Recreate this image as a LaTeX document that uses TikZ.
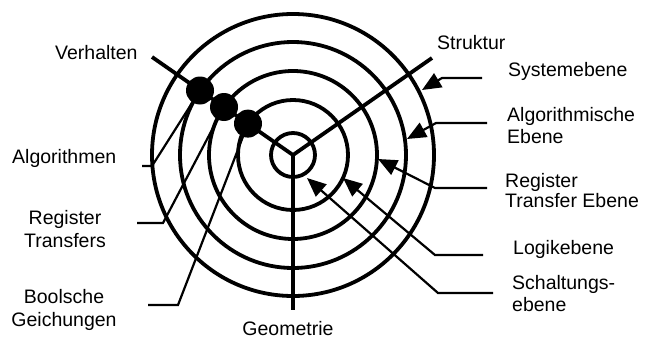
\documentclass[tikz,border=0pt]{standalone}
\usepackage{fontspec}
\setmainfont{Liberation Sans}
\usetikzlibrary{arrows.meta}
\begin{document}
\begin{tikzpicture}[x=1pt,y=-1pt,
  thickline/.style={line width=3.8pt},
  thinline/.style={line width=2.2pt},
  lbl/.style={inner sep=0pt, font=\fontsize{19.5}{22}\selectfont},
  pointer/.style={thinline, -{Triangle[length=19pt,width=16pt]}},
  dot/.style={circle, fill=black, minimum size=28pt, inner sep=0pt}]
\useasboundingbox[fill=white] (0,0) rectangle (648,340);
% centre and axes
\coordinate (C) at (293,155);
\coordinate (Vend) at (152,57);
\coordinate (Send) at (432,58);
\coordinate (Gend) at (293,310);
\foreach \r in {22,55,84,113,141} \draw[thickline] (C) circle[radius=\r pt];
\draw[thickline] (Vend) -- (C) -- (Send);
\draw[thickline] (C) -- (Gend);
% dot positions on the behaviour axis
\coordinate (p1) at (200,90.5);
\coordinate (p2) at (224,107);
\coordinate (p3) at (248,123.6);
% left leaders
\coordinate (a0) at (142,166);
\coordinate (a1) at (152,166);
\coordinate (r0) at (137,223);
\coordinate (r1) at (163,223);
\coordinate (b0) at (148,305);
\coordinate (b1) at (178,305);
\draw[thinline] (a0) -- (a1) -- (p1);
\draw[thinline] (r0) -- (r1) -- (p2);
\draw[thinline] (b0) -- (b1) -- (p3);
\node[dot] (d1) at (p1) {};
\node[dot] (d2) at (p2) {};
\node[dot] (d3) at (p3) {};
% right pointers
\coordinate (s0) at (482,78);  \coordinate (s1) at (442,78);  \coordinate (s2) at (422,90);
\coordinate (g0) at (487,123); \coordinate (g1) at (436,123); \coordinate (g2) at (407,139);
\coordinate (t0) at (487,188); \coordinate (t1) at (435,188); \coordinate (t2) at (378,159);
\coordinate (l0) at (483,255); \coordinate (l1) at (435,255); \coordinate (l2) at (343,178);
\coordinate (c0) at (493,293); \coordinate (c1) at (438,293); \coordinate (c2) at (307,178);
\draw[pointer] (s0) -- (s1) -- (s2);
\draw[pointer] (g0) -- (g1) -- (g2);
\draw[pointer] (t0) -- (t1) -- (t2);
\draw[pointer] (l0) -- (l1) -- (l2);
\draw[pointer] (c0) -- (c1) -- (c2);
% labels
\node[lbl, anchor=base west] (verh) at (55,59) {Verhalten};
\node[lbl, anchor=base west] (algo) at (12,163) {Algorithmen};
\node[lbl, anchor=base] (rt1) at (65,224) {Register};
\node[lbl, anchor=base] (rt2) at (65,247) {Transfers};
\node[lbl, anchor=base] (bo1) at (64,303) {Boolsche};
\node[lbl, anchor=base] (bo2) at (64,326) {Geichungen};
\node[lbl, anchor=base] (geo) at (288,335) {Geometrie};
\node[lbl, anchor=base west] (struk) at (437,49) {Struktur};
\node[lbl, anchor=base west] (sys) at (508,76) {Systemebene};
\node[lbl, anchor=base west] (alg1) at (507,121) {Algorithmische};
\node[lbl, anchor=base west] (alg2) at (507,143) {Ebene};
\node[lbl, anchor=base west] (rte1) at (505,187) {Register};
\node[lbl, anchor=base west] (rte2) at (505,207) {Transfer Ebene};
\node[lbl, anchor=base west] (logik) at (513,254) {Logikebene};
\node[lbl, anchor=base west] (sch1) at (512,289) {Schaltungs-};
\node[lbl, anchor=base west] (sch2) at (512,311) {ebene};
\end{tikzpicture}
\end{document}
